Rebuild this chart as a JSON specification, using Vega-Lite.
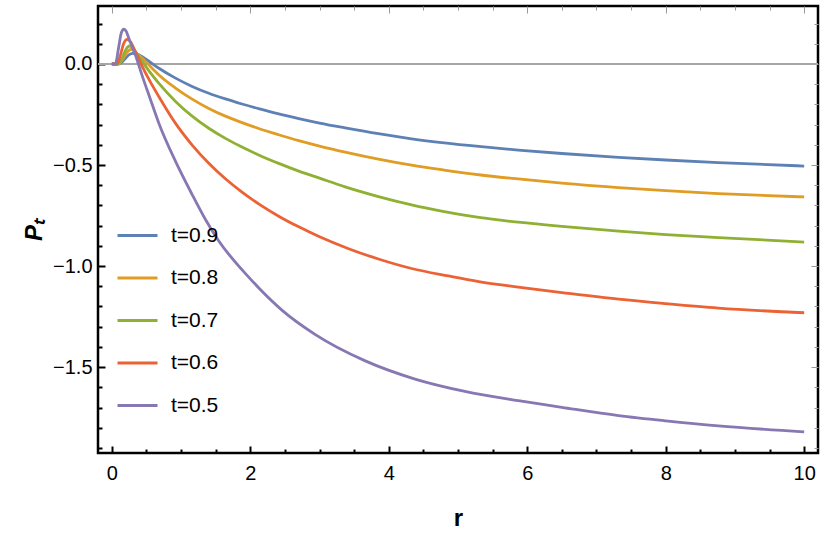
{
  "$schema": "https://vega.github.io/schema/vega-lite/v6.json",
  "width": 720,
  "height": 447,
  "autosize": "none",
  "padding": {"left": 98, "top": 6, "right": 12, "bottom": 86},
  "config": {
    "background": "white",
    "font": "Liberation Sans",
    "view": {"stroke": "black", "strokeWidth": 2.5},
    "axis": {"domain": false, "grid": false, "labelFontSize": 20, "labelColor": "black", "labelOverlap": false, "labelFlush": false}
  },
  "data": {
    "values": [
      {"t": "t=0.9", "r": 0, "P": 0}, {"t": "t=0.9", "r": 0.1, "P": 0}, {"t": "t=0.9", "r": 0.15, "P": 0.01},
      {"t": "t=0.9", "r": 0.2, "P": 0.03}, {"t": "t=0.9", "r": 0.25, "P": 0.046}, {"t": "t=0.9", "r": 0.3, "P": 0.053},
      {"t": "t=0.9", "r": 0.35, "P": 0.05}, {"t": "t=0.9", "r": 0.44, "P": 0.036}, {"t": "t=0.9", "r": 0.55, "P": 0.01},
      {"t": "t=0.9", "r": 0.68, "P": -0.021}, {"t": "t=0.9", "r": 0.92, "P": -0.07}, {"t": "t=0.9", "r": 1.16, "P": -0.111},
      {"t": "t=0.9", "r": 1.4, "P": -0.145}, {"t": "t=0.9", "r": 1.64, "P": -0.173}, {"t": "t=0.9", "r": 1.88, "P": -0.198},
      {"t": "t=0.9", "r": 2.12, "P": -0.221}, {"t": "t=0.9", "r": 2.41, "P": -0.247}, {"t": "t=0.9", "r": 2.7, "P": -0.27},
      {"t": "t=0.9", "r": 3.0, "P": -0.292}, {"t": "t=0.9", "r": 3.37, "P": -0.316}, {"t": "t=0.9", "r": 3.85, "P": -0.345},
      {"t": "t=0.9", "r": 4.33, "P": -0.37}, {"t": "t=0.9", "r": 4.8, "P": -0.39}, {"t": "t=0.9", "r": 5.3, "P": -0.408},
      {"t": "t=0.9", "r": 5.87, "P": -0.426}, {"t": "t=0.9", "r": 6.5, "P": -0.443}, {"t": "t=0.9", "r": 7.32, "P": -0.462},
      {"t": "t=0.9", "r": 8, "P": -0.475}, {"t": "t=0.9", "r": 8.76, "P": -0.488}, {"t": "t=0.9", "r": 10, "P": -0.505},

      {"t": "t=0.8", "r": 0, "P": 0}, {"t": "t=0.8", "r": 0.09, "P": 0}, {"t": "t=0.8", "r": 0.15, "P": 0.02},
      {"t": "t=0.8", "r": 0.2, "P": 0.05}, {"t": "t=0.8", "r": 0.25, "P": 0.068}, {"t": "t=0.8", "r": 0.28, "P": 0.073},
      {"t": "t=0.8", "r": 0.34, "P": 0.058}, {"t": "t=0.8", "r": 0.44, "P": 0.028}, {"t": "t=0.8", "r": 0.55, "P": -0.01},
      {"t": "t=0.8", "r": 0.68, "P": -0.054}, {"t": "t=0.8", "r": 0.92, "P": -0.119}, {"t": "t=0.8", "r": 1.16, "P": -0.174},
      {"t": "t=0.8", "r": 1.4, "P": -0.22}, {"t": "t=0.8", "r": 1.64, "P": -0.258}, {"t": "t=0.8", "r": 1.88, "P": -0.29},
      {"t": "t=0.8", "r": 2.12, "P": -0.319}, {"t": "t=0.8", "r": 2.41, "P": -0.35}, {"t": "t=0.8", "r": 2.7, "P": -0.379},
      {"t": "t=0.8", "r": 3.0, "P": -0.406}, {"t": "t=0.8", "r": 3.37, "P": -0.436}, {"t": "t=0.8", "r": 3.85, "P": -0.471},
      {"t": "t=0.8", "r": 4.33, "P": -0.501}, {"t": "t=0.8", "r": 4.8, "P": -0.525}, {"t": "t=0.8", "r": 5.3, "P": -0.548},
      {"t": "t=0.8", "r": 5.87, "P": -0.569}, {"t": "t=0.8", "r": 6.5, "P": -0.59}, {"t": "t=0.8", "r": 7.32, "P": -0.612},
      {"t": "t=0.8", "r": 8, "P": -0.627}, {"t": "t=0.8", "r": 8.76, "P": -0.641}, {"t": "t=0.8", "r": 10, "P": -0.658},

      {"t": "t=0.7", "r": 0, "P": 0}, {"t": "t=0.7", "r": 0.08, "P": 0}, {"t": "t=0.7", "r": 0.15, "P": 0.03},
      {"t": "t=0.7", "r": 0.2, "P": 0.07}, {"t": "t=0.7", "r": 0.255, "P": 0.089}, {"t": "t=0.7", "r": 0.3, "P": 0.08},
      {"t": "t=0.7", "r": 0.35, "P": 0.056}, {"t": "t=0.7", "r": 0.44, "P": 0.012}, {"t": "t=0.7", "r": 0.55, "P": -0.04},
      {"t": "t=0.7", "r": 0.68, "P": -0.096}, {"t": "t=0.7", "r": 0.92, "P": -0.185}, {"t": "t=0.7", "r": 1.16, "P": -0.258},
      {"t": "t=0.7", "r": 1.4, "P": -0.318}, {"t": "t=0.7", "r": 1.64, "P": -0.368}, {"t": "t=0.7", "r": 1.88, "P": -0.411},
      {"t": "t=0.7", "r": 2.12, "P": -0.45}, {"t": "t=0.7", "r": 2.41, "P": -0.492}, {"t": "t=0.7", "r": 2.7, "P": -0.53},
      {"t": "t=0.7", "r": 3.0, "P": -0.565}, {"t": "t=0.7", "r": 3.37, "P": -0.608}, {"t": "t=0.7", "r": 3.85, "P": -0.656},
      {"t": "t=0.7", "r": 4.33, "P": -0.697}, {"t": "t=0.7", "r": 4.8, "P": -0.73}, {"t": "t=0.7", "r": 5.3, "P": -0.759},
      {"t": "t=0.7", "r": 5.87, "P": -0.783}, {"t": "t=0.7", "r": 6.5, "P": -0.804}, {"t": "t=0.7", "r": 7.32, "P": -0.827},
      {"t": "t=0.7", "r": 8, "P": -0.844}, {"t": "t=0.7", "r": 8.76, "P": -0.859}, {"t": "t=0.7", "r": 10, "P": -0.881},

      {"t": "t=0.6", "r": 0, "P": 0}, {"t": "t=0.6", "r": 0.07, "P": 0}, {"t": "t=0.6", "r": 0.12, "P": 0.04},
      {"t": "t=0.6", "r": 0.17, "P": 0.1}, {"t": "t=0.6", "r": 0.22, "P": 0.122}, {"t": "t=0.6", "r": 0.27, "P": 0.11},
      {"t": "t=0.6", "r": 0.34, "P": 0.061}, {"t": "t=0.6", "r": 0.44, "P": -0.013}, {"t": "t=0.6", "r": 0.55, "P": -0.085},
      {"t": "t=0.6", "r": 0.68, "P": -0.162}, {"t": "t=0.6", "r": 0.92, "P": -0.294}, {"t": "t=0.6", "r": 1.16, "P": -0.401},
      {"t": "t=0.6", "r": 1.4, "P": -0.491}, {"t": "t=0.6", "r": 1.64, "P": -0.568}, {"t": "t=0.6", "r": 1.88, "P": -0.634},
      {"t": "t=0.6", "r": 2.12, "P": -0.692}, {"t": "t=0.6", "r": 2.41, "P": -0.753}, {"t": "t=0.6", "r": 2.7, "P": -0.806},
      {"t": "t=0.6", "r": 3.0, "P": -0.855}, {"t": "t=0.6", "r": 3.42, "P": -0.914}, {"t": "t=0.6", "r": 3.85, "P": -0.965},
      {"t": "t=0.6", "r": 4.33, "P": -1.012}, {"t": "t=0.6", "r": 4.86, "P": -1.049}, {"t": "t=0.6", "r": 5.3, "P": -1.077},
      {"t": "t=0.6", "r": 5.87, "P": -1.104}, {"t": "t=0.6", "r": 6.5, "P": -1.131}, {"t": "t=0.6", "r": 7.32, "P": -1.164},
      {"t": "t=0.6", "r": 8, "P": -1.186}, {"t": "t=0.6", "r": 8.76, "P": -1.208}, {"t": "t=0.6", "r": 10, "P": -1.231},

      {"t": "t=0.5", "r": 0, "P": 0}, {"t": "t=0.5", "r": 0.05, "P": 0}, {"t": "t=0.5", "r": 0.1, "P": 0.086},
      {"t": "t=0.5", "r": 0.135, "P": 0.152}, {"t": "t=0.5", "r": 0.173, "P": 0.172}, {"t": "t=0.5", "r": 0.21, "P": 0.16},
      {"t": "t=0.5", "r": 0.245, "P": 0.127}, {"t": "t=0.5", "r": 0.34, "P": 0.045}, {"t": "t=0.5", "r": 0.44, "P": -0.06},
      {"t": "t=0.5", "r": 0.55, "P": -0.168}, {"t": "t=0.5", "r": 0.68, "P": -0.294}, {"t": "t=0.5", "r": 0.92, "P": -0.482},
      {"t": "t=0.5", "r": 1.16, "P": -0.646}, {"t": "t=0.5", "r": 1.35, "P": -0.768}, {"t": "t=0.5", "r": 1.54, "P": -0.873},
      {"t": "t=0.5", "r": 1.98, "P": -1.056}, {"t": "t=0.5", "r": 2.46, "P": -1.219}, {"t": "t=0.5", "r": 2.94, "P": -1.339},
      {"t": "t=0.5", "r": 3.66, "P": -1.469}, {"t": "t=0.5", "r": 4.38, "P": -1.559}, {"t": "t=0.5", "r": 5.1, "P": -1.62},
      {"t": "t=0.5", "r": 5.87, "P": -1.666}, {"t": "t=0.5", "r": 6.5, "P": -1.699}, {"t": "t=0.5", "r": 7.32, "P": -1.74},
      {"t": "t=0.5", "r": 8, "P": -1.766}, {"t": "t=0.5", "r": 8.76, "P": -1.791}, {"t": "t=0.5", "r": 10, "P": -1.82}
    ]
  },
  "layer": [
    {
      "mark": {"type": "rule", "color": "#a6a6a6", "strokeWidth": 1},
      "encoding": {
        "x": {
          "datum": -0.2,
          "type": "quantitative",
          "scale": {"domain": [-0.2, 10.2], "nice": false, "zero": false},
          "axis": {
            "orient": "top", "title": null, "labels": false,
            "values": [0, 0.5, 1, 1.5, 2, 2.5, 3, 3.5, 4, 4.5, 5, 5.5, 6, 6.5, 7, 7.5, 8, 8.5, 9, 9.5, 10],
            "tickColor": "#999999", "tickWidth": 1,
            "tickSize": {"condition": {"test": "datum.value % 2 === 0", "value": -7}, "value": -4}
          }
        },
        "x2": {"datum": 10.2},
        "y": {
          "datum": 0,
          "type": "quantitative",
          "scale": {"domain": [-1.925, 0.287], "nice": false, "zero": false},
          "axis": {
            "orient": "right", "title": null, "labels": false,
            "values": [0.2, 0.1, 0, -0.1, -0.2, -0.3, -0.4, -0.5, -0.6, -0.7, -0.8, -0.9, -1, -1.1, -1.2, -1.3, -1.4, -1.5, -1.6, -1.7, -1.8, -1.9],
            "tickColor": "#999999", "tickWidth": 1,
            "tickSize": {"condition": {"test": "abs(datum.value * 2 - round(datum.value * 2)) < 0.001", "value": -7}, "value": -4}
          }
        }
      }
    },
    {
      "mark": {"type": "line", "strokeWidth": 2.8, "interpolate": "monotone"},
      "encoding": {
        "x": {
          "field": "r",
          "type": "quantitative",
          "scale": {"domain": [-0.2, 10.2], "nice": false, "zero": false},
          "axis": {
            "orient": "bottom",
            "title": "r",
            "titleFontSize": 24, "titleFontWeight": "bold", "titleColor": "black", "titlePadding": 20,
            "values": [0, 0.5, 1, 1.5, 2, 2.5, 3, 3.5, 4, 4.5, 5, 5.5, 6, 6.5, 7, 7.5, 8, 8.5, 9, 9.5, 10],
            "labelExpr": "datum.value % 2 === 0 ? format(datum.value, 'd') : ''",
            "labelPadding": 17,
            "tickColor": "black", "tickWidth": 2,
            "tickSize": {"condition": {"test": "datum.value % 2 === 0", "value": -7}, "value": -4}
          }
        },
        "y": {
          "field": "P",
          "type": "quantitative",
          "scale": {"domain": [-1.925, 0.287], "nice": false, "zero": false},
          "axis": {
            "orient": "left",
            "title": "Pₜ",
            "titleFontSize": 24, "titleFontWeight": "bold", "titleFontStyle": "italic", "titleColor": "black", "titlePadding": 6,
            "values": [0.2, 0.1, 0, -0.1, -0.2, -0.3, -0.4, -0.5, -0.6, -0.7, -0.8, -0.9, -1, -1.1, -1.2, -1.3, -1.4, -1.5, -1.6, -1.7, -1.8, -1.9],
            "labelExpr": "abs(datum.value * 2 - round(datum.value * 2)) < 0.001 ? format(datum.value, '.1f') : ''",
            "labelPadding": 13,
            "tickColor": "black", "tickWidth": 2,
            "tickSize": {"condition": {"test": "abs(datum.value * 2 - round(datum.value * 2)) < 0.001", "value": -7}, "value": -4}
          }
        },
        "color": {
          "field": "t",
          "type": "nominal",
          "sort": ["t=0.9", "t=0.8", "t=0.7", "t=0.6", "t=0.5"],
          "scale": {
            "domain": ["t=0.9", "t=0.8", "t=0.7", "t=0.6", "t=0.5"],
            "range": ["#5e81b5", "#e19c24", "#8fb032", "#eb6235", "#8778b3"]
          },
          "legend": {
            "title": null,
            "orient": "none",
            "legendX": 18,
            "legendY": 208,
            "symbolType": "stroke",
            "symbolSize": 1600,
            "symbolStrokeWidth": 3,
            "labelFontSize": 21,
            "labelColor": "black",
            "labelOffset": 12,
            "rowPadding": 10.5
          }
        }
      }
    }
  ],
  "resolve": {"axis": {"x": "independent", "y": "independent"}}
}
